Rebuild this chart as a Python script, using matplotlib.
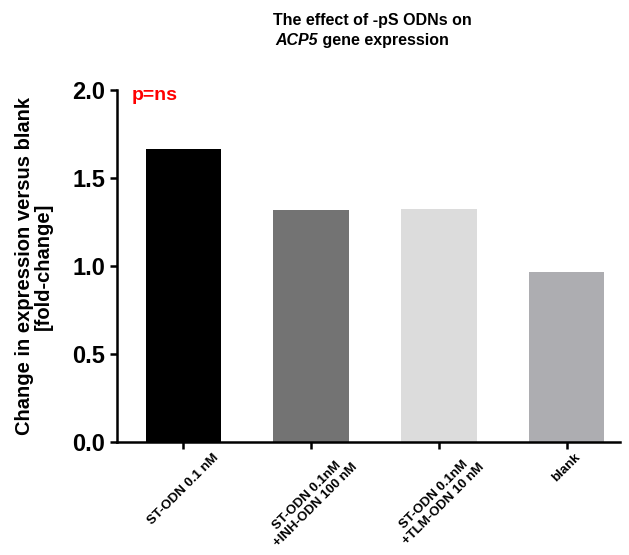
import numpy as np
import matplotlib.pyplot as plt

plt.rcParams['font.family'] = ['Liberation Sans', 'DejaVu Sans']

groups = ['ST-ODN 0.1 nM',
          'ST-ODN 0.1nM\n+INH-ODN 100 nM',
          'ST-ODN 0.1nM\n+TLM-ODN 10 nM',
          'blank']
fold_change = [1.665, 1.318, 1.324, 0.966]
bar_colors = ['#000000', '#737373', '#dcdcdc', '#adadb1']

fig = plt.figure(figsize=(6.29, 5.55), dpi=100)
ax = fig.add_axes([0.186, 0.204, 0.80, 0.634])

x = np.arange(len(groups))
ax.bar(x, fold_change, width=0.59, color=bar_colors)

ax.set_xlim(-0.52, 3.42)
ax.set_ylim(0, 2.0)
ax.set_yticks([0.0, 0.5, 1.0, 1.5, 2.0])
ax.set_yticklabels(['0.0', '0.5', '1.0', '1.5', '2.0'], fontsize=17, fontweight='bold')
ax.set_xticks(x)
ax.set_xticklabels(groups, rotation=45, ha='center', multialignment='center',
                   fontsize=9.5, fontweight='bold', linespacing=1.1)

for side in ['top', 'right']:
    ax.spines[side].set_visible(False)
for side in ['left', 'bottom']:
    ax.spines[side].set_linewidth(1.8)
ax.tick_params(axis='both', width=1.8, length=5)
ax.tick_params(axis='x', pad=2)

ax.set_ylabel('Change in expression versus blank\n[fold-change]',
              fontsize=14.5, fontweight='bold', labelpad=14, linespacing=1.0)

ax.text(0.03, 1.97, 'p=ns', color='#ff0000', fontsize=14, fontweight='bold',
        transform=ax.get_yaxis_transform(), va='center')

fig.text(0.592, 0.963, 'The effect of -pS ODNs on', ha='center', va='center',
         fontsize=11.5, fontweight='bold')
fig.text(0.505, 0.927, 'ACP5', ha='right', va='center',
         fontsize=11.5, fontweight='bold', fontstyle='italic')
fig.text(0.505, 0.927, ' gene expression', ha='left', va='center',
         fontsize=11.5, fontweight='bold')

fig.savefig('out.png', dpi=100)
